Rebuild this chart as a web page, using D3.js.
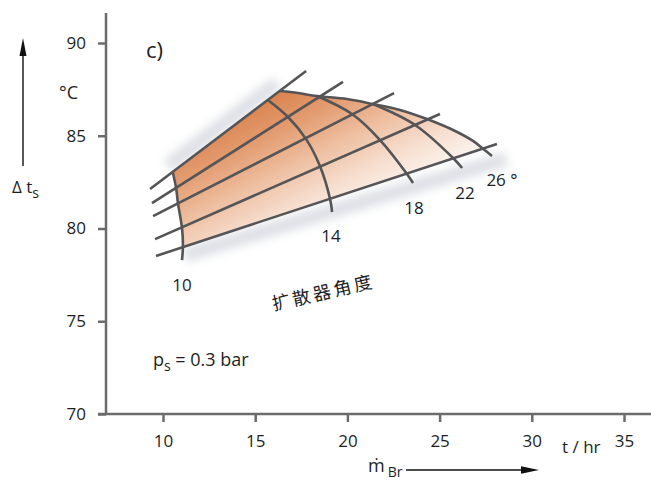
<!DOCTYPE html>
<html><head><meta charset="utf-8">
<script src="https://cdn.jsdelivr.net/npm/d3@7"></script>
<style>
html,body{margin:0;padding:0;background:#fff;}
svg{display:block;}
text{font-family:"Open Sans","Noto Sans",sans-serif;fill:#1e1e1e;}
</style></head><body>
<svg id="chart" width="651" height="483"></svg>
<script>
// ---- data (x: mass flow t/hr, y: Δt_s °C) ----
const xTicks = [10, 15, 20, 25, 30, 35];
const yTicks = [70, 75, 80, 85, 90];
const angleLabels = ["10", "14", "18", "22", "26 °"];

// diffuser-angle curves, top to bottom (crossings with the five straight lines, then the tail)
const curve10 = [[10.54, 82.99], [10.71, 82.18], [10.81, 81.37], [11.03, 80.03], [11.08, 79.00], [11.03, 78.30]];
const curve14 = [[15.69, 86.93], [16.78, 86.01], [17.76, 84.82], [18.51, 83.37], [19.06, 81.59], [19.17, 80.89]];
const curve18 = [[18.35, 87.14], [20.25, 86.17], [21.77, 84.77], [23.23, 82.94], [23.56, 82.45]];
const curve22 = [[21.39, 86.71], [23.67, 85.58], [25.73, 83.80], [26.22, 83.26]];
const curve26 = [[24.32, 85.90], [25.73, 85.31], [26.81, 84.72], [27.34, 84.31], [27.84, 83.91]];

// upper limit (envelope) from the top straight line to curve 26
const envelope = [[16.35, 87.41], [17.32, 87.30], [18.35, 87.14], [19.98, 86.98], [21.39, 86.71], [22.85, 86.39], [24.32, 85.90]];

// five straight lines, bottom to top: [start, end]
const line1 = [[9.62, 78.52], [28.11, 84.56]];
const line2 = [[9.57, 79.43], [25.02, 86.17]];
const line3 = [[9.46, 80.67], [22.53, 87.30]];
const line4 = [[9.40, 81.37], [19.76, 87.90]];
const line5 = [[9.30, 82.13], [17.76, 88.49]];

const curves = [curve10, curve14, curve18, curve22, curve26];
const lines = [line1, line2, line3, line4, line5];

// ---- drawing ----
const svg = d3.select("#chart");
const x = d3.scaleLinear().domain([10, 35]).range([163, 624]);
const y = d3.scaleLinear().domain([70, 90]).range([414, 43]);

const defs = svg.append("defs");
const blur = defs.append("filter").attr("id", "blur").attr("x", "-50%").attr("y", "-50%").attr("width", "200%").attr("height", "200%");
blur.append("feGaussianBlur").attr("stdDeviation", 5);

const p0 = [x(curve10[0][0]), y(curve10[0][1])];
const p1 = [x(envelope[0][0]), y(envelope[0][1])];

// gradient from the top corner downwards / right
const grad = defs.append("linearGradient").attr("id", "fillGrad")
  .attr("gradientUnits", "userSpaceOnUse")
  .attr("x1", p1[0] - 15).attr("y1", p1[1] + 2)
  .attr("x2", p1[0] + 55).attr("y2", p1[1] + 140);
[[0, "#d97f49"], [0.25, "#e39b6f"], [0.5, "#eebfa1"], [0.75, "#f7e0d1"], [1, "#fdf8f5"]].forEach(s =>
  grad.append("stop").attr("offset", s[0]).attr("stop-color", s[1]));

const lineGen = d3.line().x(d => x(d[0])).y(d => y(d[1])).curve(d3.curveCatmullRom.alpha(0.5));

// shadows
const shadowG = svg.append("g").attr("filter", "url(#blur)").attr("opacity", 0.55);
shadowG.append("line")
  .attr("x1", p0[0] - 5).attr("y1", p0[1] - 7).attr("x2", p1[0] - 3).attr("y2", p1[1] - 8)
  .attr("stroke", "#bfc5cf").attr("stroke-width", 14);
const b0 = [x(curve10[4][0]), y(curve10[4][1])];
const b1 = [x(curve26[4][0]), y(curve26[4][1])];
shadowG.append("line")
  .attr("x1", b0[0] + 2).attr("y1", b0[1] + 8).attr("x2", b1[0] + 14).attr("y2", b1[1] + 3)
  .attr("stroke", "#bfc5cf").attr("stroke-width", 14);

// shaded region
const segA = lineGen(curve10.slice(0, 5));
const segB = lineGen(curve26.slice(0, 4).reverse()).replace(/^M/, "L");
const segC = lineGen(envelope.slice().reverse()).replace(/^M/, "L");
svg.append("path").attr("d", segA + segB + segC + "Z")
  .attr("fill", "url(#fillGrad)").attr("stroke", "none");

// grid
const gridColor = "#555557";
const grid = svg.append("g").attr("fill", "none").attr("stroke", gridColor).attr("stroke-width", 2.6).attr("stroke-linecap", "butt");
lines.forEach(l => grid.append("path").attr("d", d3.line().x(d => x(d[0])).y(d => y(d[1]))(l)));
curves.forEach(c => grid.append("path").attr("d", lineGen(c)));
grid.append("path").attr("d", lineGen(envelope));

// angle labels
const labelDx = [0, -1, 1, 3, 10];
curves.forEach((c, i) => {
  const e = c[c.length - 1];
  svg.append("text").attr("x", x(e[0]) + labelDx[i]).attr("y", y(e[1]) + 24)
    .attr("text-anchor", "middle").attr("dominant-baseline", "central")
    .attr("font-size", 17).text(angleLabels[i]);
});

svg.append("text").attr("transform", "translate(323,291) rotate(-13)")
  .attr("text-anchor", "middle").attr("dominant-baseline", "central")
  .style("font-family", "'Noto Sans CJK SC', sans-serif").attr("font-size", 18)
  .attr("letter-spacing", 3).attr("fill", "#2a2a2a").text("扩散器角度");

// axes
const axisColor = "#6b6b6b";
const gx = svg.append("g").attr("transform", "translate(0,414)")
  .call(d3.axisBottom(x).tickValues(xTicks).tickSize(8).tickPadding(13).tickFormat(d3.format("d")));
const gy = svg.append("g").attr("transform", "translate(106,0)")
  .call(d3.axisLeft(y).tickValues(yTicks).tickSize(8).tickPadding(12).tickFormat(d3.format("d")));
[gx, gy].forEach(g => {
  g.select(".domain").remove();
  g.selectAll(".tick line").attr("stroke", axisColor).attr("stroke-width", 2.5);
  g.selectAll(".tick text").attr("font-size", 17).attr("fill", "#1e1e1e")
    .style("font-family", "'Open Sans', sans-serif");
});
svg.append("line").attr("x1", 98).attr("x2", 651).attr("y1", 414).attr("y2", 414)
  .attr("stroke", axisColor).attr("stroke-width", 2.5);
svg.append("line").attr("x1", 106).attr("x2", 106).attr("y1", 13).attr("y2", 415)
  .attr("stroke", axisColor).attr("stroke-width", 2.5);

// annotation texts
svg.append("text").attr("x", 146).attr("y", 58).attr("font-size", 22).text("c)");
svg.append("text").attr("x", 59).attr("y", 99).attr("font-size", 18).text("°C");

const dt = svg.append("text").attr("x", 12).attr("y", 193).attr("font-size", 17);
dt.append("tspan").text("Δ t");
dt.append("tspan").attr("font-size", 14).attr("dy", 5).text("s");

svg.append("line").attr("x1", 23).attr("x2", 23).attr("y1", 166).attr("y2", 52)
  .attr("stroke", "#111").attr("stroke-width", 1.4);
svg.append("path").attr("d", "M23,38L19.5,56L26.5,56Z").attr("fill", "#111");

const ps = svg.append("text").attr("x", 153).attr("y", 366).attr("font-size", 18);
ps.append("tspan").text("p");
ps.append("tspan").attr("font-size", 14).attr("dy", 5).text("s");
ps.append("tspan").attr("dy", -5).text(" = 0.3 bar");

svg.append("text").attr("x", 562).attr("y", 453).attr("font-size", 17).text("t / hr");

const mb = svg.append("text").attr("x", 368).attr("y", 472).attr("font-size", 18);
mb.append("tspan").text("ṁ");
mb.append("tspan").attr("font-size", 14).attr("dy", 5).attr("dx", 3).text("Br");
svg.append("line").attr("x1", 406).attr("x2", 524).attr("y1", 470).attr("y2", 470)
  .attr("stroke", "#111").attr("stroke-width", 1.4);
svg.append("path").attr("d", "M539,470L521,466.3L521,473.7Z").attr("fill", "#111");
</script>
</body></html>
